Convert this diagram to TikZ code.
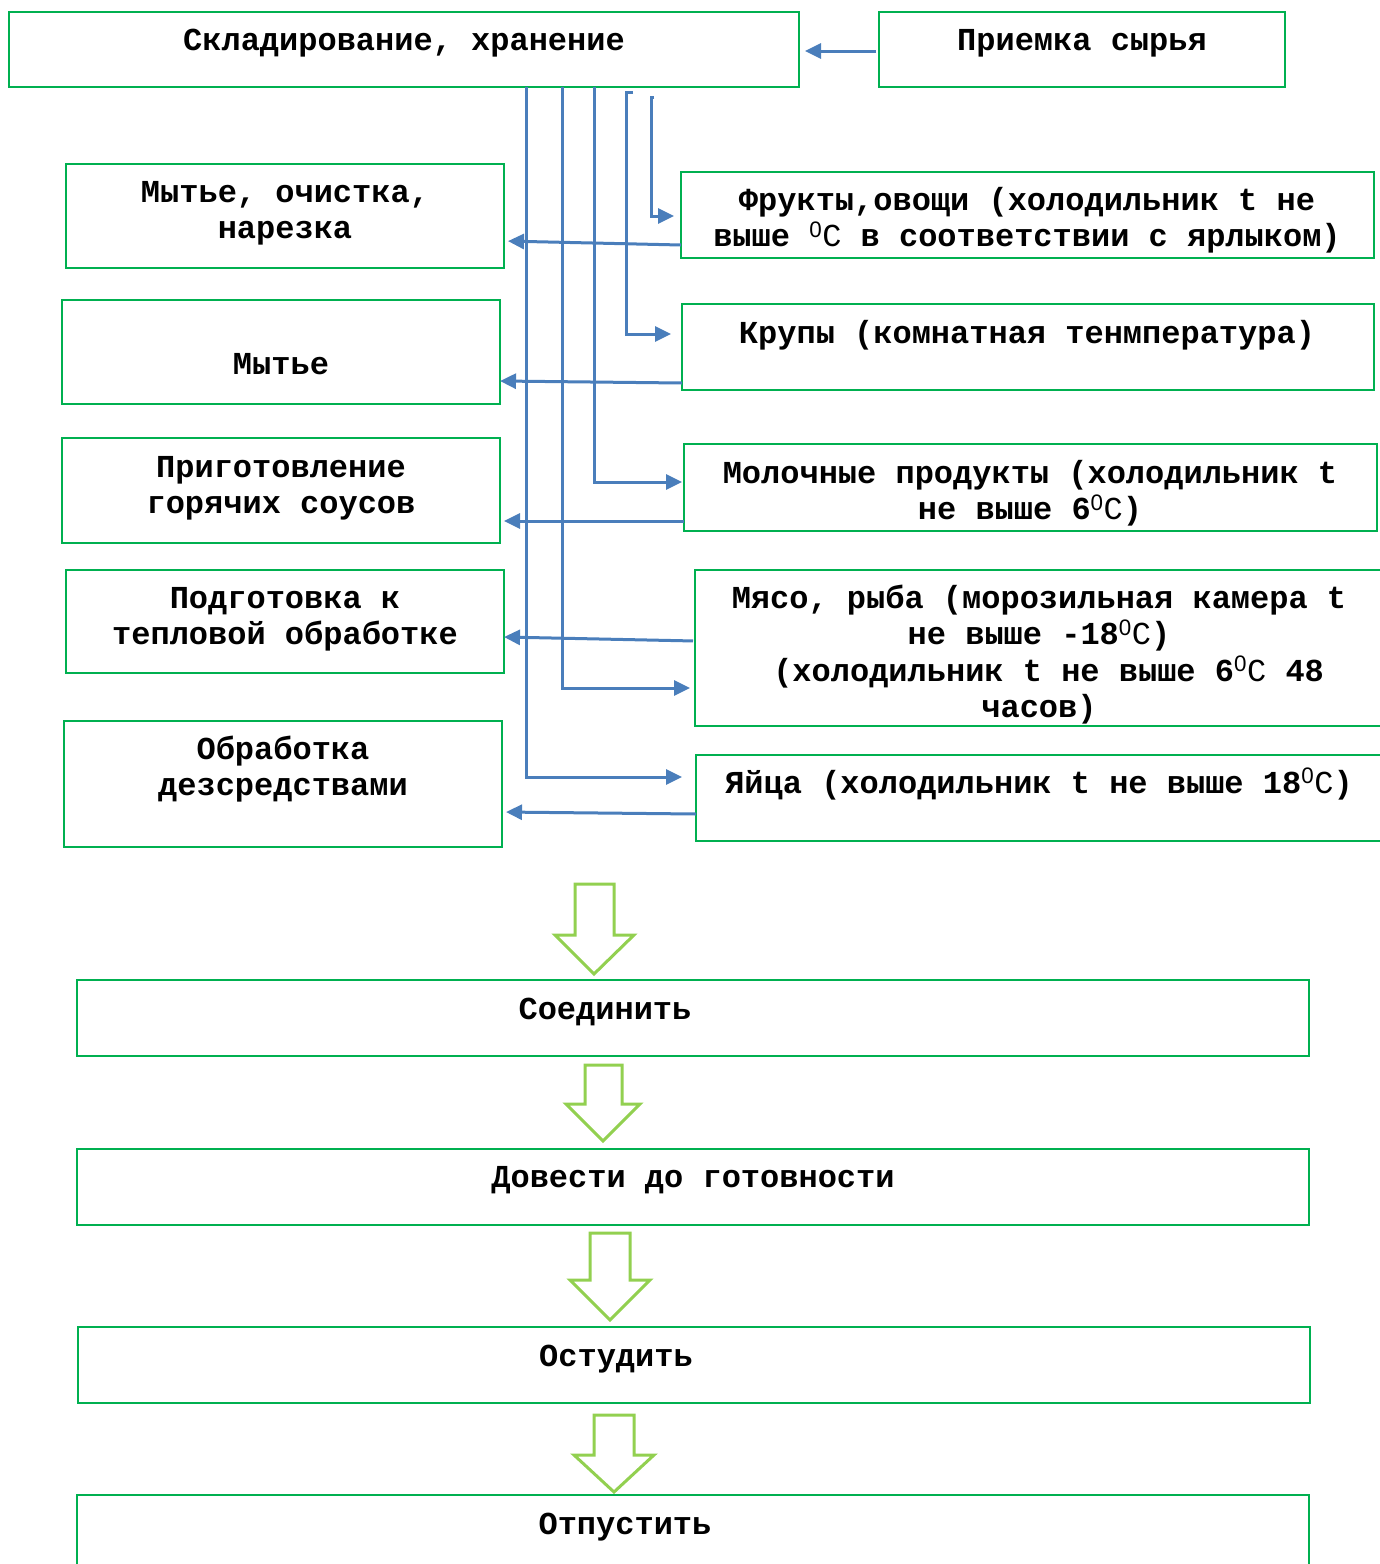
\documentclass[tikz,border=0pt]{standalone}
\usepackage{fontspec}
\setmonofont{Liberation Mono}
\newfontfamily\zerofont{Liberation Sans}
\usetikzlibrary{arrows.meta}
\definecolor{boxgreen}{RGB}{0,176,80}
\definecolor{flowblue}{RGB}{74,126,187}
\definecolor{stepgreen}{RGB}{146,208,80}
% degree sign written as a raised zero followed by C
\newcommand{\degC}{\textsuperscript{\zerofont\mdseries 0}{\mdseries C}}
\begin{document}
\begin{tikzpicture}[x=1pt,y=-1pt,
  box/.style={draw=boxgreen,line width=2pt,inner sep=0pt,outer sep=0pt,anchor=north west},
  lbl/.style={font=\ttfamily\bfseries\fontsize{32}{36.5}\selectfont,align=center,anchor=base,inner sep=0pt},
  flow/.style={draw=flowblue,line width=3pt,line join=miter,-{Triangle[length=16pt,width=15pt]}},
  stepdown/.style={draw=stepgreen,line width=3pt,fill=white,line join=miter}
]
\useasboundingbox (0,0) rectangle (1380,1564);
\clip (0,0) rectangle (1380,1564);

% storage and intake
\node[box,minimum width=790pt,minimum height=75pt] (store) at (9,12) {};
\node[box,minimum width=406pt,minimum height=75pt] (intake) at (879,12) {};
\node[lbl] (storetxt) at (404,50) {Складирование, хранение};
\node[lbl] (intaketxt) at (1082,50) {Приемка сырья};

% processing steps (left column); multi-line labels sit on their last baseline
\node[box,minimum width=438pt,minimum height=104pt] (wash1) at (66,164) {};
\node[box,minimum width=438pt,minimum height=104pt] (wash2) at (62,300) {};
\node[box,minimum width=438pt,minimum height=105pt] (sauce) at (62,438) {};
\node[box,minimum width=438pt,minimum height=103pt] (prep) at (66,570) {};
\node[box,minimum width=438pt,minimum height=126pt] (disinf) at (64,721) {};
\node[lbl] (wash1txt) at (285,238.5) {Мытье, очистка,\\нарезка};
\node[lbl] (wash2txt) at (281,374) {Мытье};
\node[lbl] (saucetxt) at (281,513.5) {Приготовление\\горячих соусов};
\node[lbl] (preptxt) at (285,644.5) {Подготовка к\\тепловой обработке};
\node[lbl] (disinftxt) at (283,795.5) {Обработка\\дезсредствами};

% storage conditions (right column)
\node[box,minimum width=693pt,minimum height=86pt] (fruit) at (681,172) {};
\node[box,minimum width=692pt,minimum height=86pt] (cereal) at (682,304) {};
\node[box,minimum width=693pt,minimum height=87pt] (dairy) at (684,444) {};
\node[box,minimum width=700pt,minimum height=156pt] (meat) at (695,570) {};
\node[box,minimum width=700pt,minimum height=86pt] (egg) at (696,755) {};
\node[lbl] (fruittxt) at (1027,246.5) {Фрукты,овощи (холодильник t не\\выше \degC{} в соответствии с ярлыком)};
\node[lbl] (cerealtxt) at (1027,343) {Крупы (комнатная тенмпература)};
\node[lbl] (dairytxt) at (1030,519.5) {Молочные продукты (холодильник t\\не выше 6\degC)};
\node[lbl] (meattxt) at (1039,717.5) {Мясо, рыба (морозильная камера t\\не выше -18\degC)\\\hspace*{0.6em}(холодильник t не выше 6\degC{} 48\\часов)};
\node[lbl] (eggtxt) at (1039,793) {Яйца (холодильник t не выше 18\degC)};

% final stages
\node[box,minimum width=1232pt,minimum height=76pt] (join) at (77,980) {};
\node[box,minimum width=1232pt,minimum height=76pt] (finish) at (77,1149) {};
\node[box,minimum width=1232pt,minimum height=76pt] (cool) at (78,1327) {};
\node[box,minimum width=1232pt,minimum height=100pt] (serve) at (77,1495) {};
\node[lbl] (jointxt) at (605,1019) {Соединить};
\node[lbl] (finishtxt) at (693,1187) {Довести до готовности};
\node[lbl] (cooltxt) at (616,1366) {Остудить};
\node[lbl] (servetxt) at (625,1534) {Отпустить};

% intake into storage
\draw[flow,shorten <=3pt,shorten >=6pt] (intake.west |- 0,51) -- (store.east |- 0,51);

% storage to each product group
\draw[flow,shorten >=14pt] (store.south -| 526,0) |- (egg.west |- 0,777);
\draw[flow,shorten >=5pt] (store.south -| 562,0) |- (meat.west |- 0,688);
\draw[flow,shorten >=2pt] (store.south -| 594,0) |- (dairy.west |- 0,482);
\coordinate (hookA) at (633,92);
\coordinate (bendA) at (626,92);
\draw[flow,shorten >=11pt] (hookA) -- (bendA) |- (cereal.west |- 0,334);
\coordinate (hookB) at (654,97);
\coordinate (bendB) at (651,97);
\draw[flow,shorten >=7pt] (hookB) -- (bendB) |- (fruit.west |- 0,216);

% product groups to processing
\draw[flow,shorten >=4pt] (fruit.west |- 0,245) -- (wash1.east |- 0,241);
\draw[flow] (cereal.west |- 0,383) -- (wash2.east |- 0,381);
\draw[flow,shorten >=4pt] (dairy.west |- 0,521) -- (sauce.east |- 0,521);
\draw[flow,shorten <=2pt] (meat.west |- 0,641) -- (prep.east |- 0,637);
\draw[flow,shorten >=4pt] (egg.west |- 0,814) -- (disinf.east |- 0,812);

% hollow arrows between final stages
\draw[stepdown] (575,884) -- (614,884) -- (614,935) -- (634,935) -- (594,974) -- (555,935) -- (575,935) -- cycle;
\draw[stepdown] (585,1065) -- (622,1065) -- (622,1104) -- (640,1104) -- (603,1141) -- (566,1104) -- (585,1104) -- cycle;
\draw[stepdown] (590,1233) -- (630,1233) -- (630,1280) -- (650,1280) -- (610,1320) -- (570,1280) -- (590,1280) -- cycle;
\draw[stepdown] (594,1415) -- (634,1415) -- (634,1455) -- (654,1455) -- (614,1492) -- (574,1455) -- (594,1455) -- cycle;
\end{tikzpicture}
\end{document}
